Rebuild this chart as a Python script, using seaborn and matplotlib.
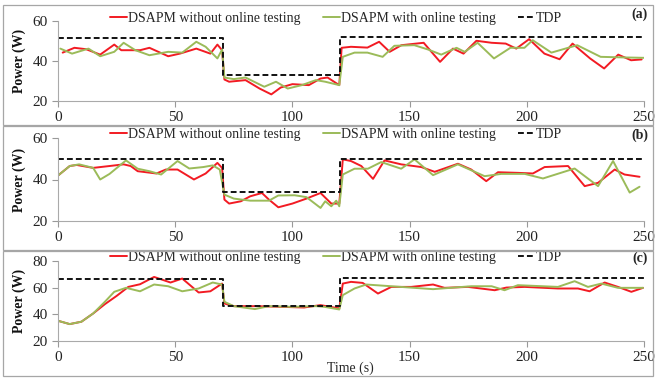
import pandas as pd
import matplotlib.pyplot as plt
import seaborn as sns
from matplotlib.patches import Rectangle

# Panel (a)
a_red_t = [2, 7, 12, 18, 24, 27, 35, 39, 47, 52, 59, 65, 68, 70, 71, 73, 80, 86, 91, 95, 100, 107,
           112, 115, 120, 121, 125, 132, 137, 141.5, 146.5, 156, 163, 168.5, 173, 178.5, 185, 191,
           195.5, 201, 207.5, 214, 219.5, 227, 233, 239, 244.5, 249]
a_red_p = [44.1, 46.5, 45.8, 43.1, 48.1, 45.3, 45.3, 46.5, 42.3, 43.6, 46.1, 43.6, 48.1, 45.3, 30.7,
           29.6, 30.4, 26.2, 23.3, 26.7, 28.4, 27.9, 31.2, 31.7, 27.9, 46.5, 47.0, 46.6, 49.5, 44.5,
           47.8, 49.0, 39.5, 46.1, 43.6, 50.0, 49.0, 48.6, 46.1, 50.8, 43.6, 40.8, 48.6, 41.2, 36.2,
           43.1, 40.3, 40.7]
a_grn_t = [1, 6, 13, 18, 24, 28, 33, 39, 47, 53, 59, 63, 68, 70, 71, 75, 80, 88, 93, 98, 104, 110,
           114, 120, 121.5, 126.5, 132, 138.5, 143.5, 152, 158, 163.5, 170, 173.5, 179, 186, 193,
           199, 202.5, 210.5, 221.5, 231.5, 241.5, 250]
a_grn_p = [46.1, 43.6, 46.1, 42.3, 44.5, 49.0, 45.3, 42.8, 44.5, 44.1, 49.5, 47.0, 41.2, 45.6, 31.7,
           30.9, 31.7, 27.1, 29.6, 26.2, 27.9, 30.4, 29.6, 27.9, 42.0, 44.1, 44.1, 42.0, 47.5, 47.8,
           45.6, 43.1, 46.5, 44.5, 49.0, 41.2, 46.5, 46.5, 50.3, 44.1, 47.8, 42.0, 41.7, 41.5]
a_tdp_t = [0, 70.3, 70.3, 120.5, 120.5, 250]
a_tdp_p = [51.5, 51.5, 33, 33, 52, 52]

# Panel (b)
b_red_t = [0, 5, 8, 15, 22, 28, 31, 34, 42, 46, 51, 58, 63, 68, 70, 71, 73, 78, 82, 87, 90, 94, 100,
           106, 112, 116.6, 120, 121.5, 125, 129.4, 134.4, 139.3, 146.4, 155, 160.7, 170.6, 176.3,
           182.7, 187.7, 196.2, 202.6, 207.6, 217.6, 224.7, 230.4, 237.5, 241.7, 248.1]
b_red_p = [41.9, 46.5, 47.0, 45.6, 46.5, 47.3, 46.5, 44.0, 42.9, 44.8, 44.8, 40.0, 42.9, 48.0, 45.6,
           30.3, 28.4, 29.5, 31.9, 33.5, 30.3, 26.6, 28.4, 30.8, 33.5, 28.4, 28.4, 49.7, 48.9, 46.5,
           40.3, 49.2, 47.3, 46.0, 43.7, 47.6, 44.8, 39.2, 43.5, 43.2, 42.9, 46.0, 46.5, 36.8, 38.4,
           44.8, 42.4, 41.3]
b_grn_t = [0, 5, 9, 15, 18, 22, 29, 34, 39, 44, 51, 56, 62, 66, 69, 71, 75, 82, 90, 94, 101, 106,
           112, 114, 116.6, 118.7, 120, 121.5, 126.5, 132.2, 137.9, 146.4, 152.1, 160, 170.6, 182,
           189.1, 199.1, 206.9, 220.4, 230.4, 236.8, 243.9, 248.1]
b_grn_p = [41.9, 46.5, 47.3, 45.6, 40.0, 42.7, 49.2, 45.2, 44.0, 42.4, 48.9, 45.3, 46.0, 46.8, 44.8,
           32.7, 30.8, 29.8, 29.8, 32.3, 32.4, 31.5, 26.3, 29.5, 27.1, 29.8, 27.1, 42.4, 45.2, 45.2,
           48.4, 45.2, 49.7, 42.1, 47.3, 41.6, 42.7, 42.7, 40.5, 45.3, 36.8, 48.9, 33.7, 36.5]
b_tdp_t = [0, 70.3, 70.3, 120.5, 120.5, 250]
b_tdp_p = [50, 50, 34, 34, 50, 50]

# Panel (c)
c_red_t = [0, 5, 10, 15, 20, 25, 30, 35, 41, 48, 53, 60, 65, 70, 71, 75, 85, 95, 105, 112, 120,
           121.5, 125, 130, 136.5, 142.2, 150.7, 160, 164.9, 174.9, 186.3, 191.3, 199.1, 213.3,
           221.8, 226.8, 233.2, 238.9, 244.6, 249.6]
c_red_p = [35.0, 32.5, 34.3, 40.5, 47.5, 53.7, 60.5, 62.5, 68.0, 63.8, 66.8, 56.3, 57.2, 63.0, 48.0,
           46.0, 46.0, 45.5, 45.0, 46.8, 44.3, 63.0, 64.3, 63.5, 55.5, 60.5, 60.5, 62.3, 59.8, 60.5,
           58.0, 60.0, 60.5, 59.3, 59.3, 57.2, 63.8, 60.5, 56.8, 59.8]
c_grn_t = [0, 5, 10, 15, 20, 24, 29, 35, 41, 47, 53, 60, 66, 70, 71, 75, 84, 90, 100, 110, 113.7,
           120, 121.5, 126.5, 131.5, 142.2, 160, 176.3, 185, 190.5, 196.2, 213.3, 220.4, 226.1,
           231.8, 238.9, 249.6]
c_grn_p = [35.0, 32.5, 34.3, 40.5, 49.3, 56.8, 59.8, 57.2, 62.3, 61.0, 57.2, 59.3, 63.8, 62.3, 49.3,
           46.0, 43.8, 46.0, 45.5, 46.0, 45.5, 43.5, 54.3, 59.3, 62.3, 61.0, 58.8, 61.0, 61.0, 58.0,
           61.8, 60.5, 64.8, 60.5, 63.0, 59.8, 59.8]
c_tdp_t = [0, 70.3, 70.3, 120.5, 120.5, 250]
c_tdp_p = [66.5, 66.5, 46, 46, 67, 67]

s_red = "DSAPM without online testing"
s_grn = "DSAPM with online testing"
s_tdp = "TDP"
panel_labels = ["(a)", "(b)", "(c)"]
x_ticks = [0, 50, 100, 150, 200, 250]
y_ticks = [[20, 40, 60], [20, 40, 60], [20, 40, 60, 80]]

panels = [
    (a_red_t, a_red_p, a_grn_t, a_grn_p, a_tdp_t, a_tdp_p),
    (b_red_t, b_red_p, b_grn_t, b_grn_p, b_tdp_t, b_tdp_p),
    (c_red_t, c_red_p, c_grn_t, c_grn_p, c_tdp_t, c_tdp_p),
]

sns.set_theme(style="ticks")
plt.rcParams['font.family'] = ['Liberation Serif', 'DejaVu Serif']

palette = {s_red: "#f21b23", s_grn: "#9bbb59", s_tdp: "#111111"}
dashes = {s_red: "", s_grn: "", s_tdp: (3, 1.6)}

fig = plt.figure(figsize=(6.55, 3.78), dpi=100)
W, H = 655, 378
# axes boxes in pixels: (top, bottom)
boxes = [(20.7, 101), (138, 221), (261, 340.7)]
frames = [(5, 125), (126, 250), (251, 376)]
x_left, x_right = 58, 644

for i, (rt, rp, gt, gp, tt, tp) in enumerate(panels):
    top, bot = boxes[i]
    ax = fig.add_axes([x_left / W, 1 - bot / H, (x_right - x_left) / W, (bot - top) / H])
    df = pd.concat([
        pd.DataFrame({"time": rt, "power": rp, "series": s_red}),
        pd.DataFrame({"time": gt, "power": gp, "series": s_grn}),
        pd.DataFrame({"time": tt, "power": tp, "series": s_tdp}),
    ], ignore_index=True)
    sns.lineplot(data=df, x="time", y="power", hue="series", style="series",
                 palette=palette, dashes=dashes, estimator=None, sort=False,
                 linewidth=1.4, ax=ax, legend=True)
    h, l = ax.get_legend_handles_labels()
    for hh in h:
        hh.set_linewidth(1.4)
    ax.legend(h, l, ncol=3, loc="center", bbox_to_anchor=(0.475, 1.04 if i else 1.03),
              frameon=False, fontsize=10, handlelength=1.2, handletextpad=0.1,
              columnspacing=1.6, borderaxespad=0)
    ax.set_xlim(0, 250)
    ax.set_ylim(y_ticks[i][0], y_ticks[i][-1])
    ax.set_xticks(x_ticks)
    ax.set_yticks(y_ticks[i])
    ax.tick_params(labelsize=11, colors="#999999", labelcolor="#222222", length=4, width=0.8)
    ax.set_xlabel("")
    ax.set_ylabel("Power (W)", fontsize=10, fontweight="bold", color="#111111")
    ax.yaxis.set_label_coords(-0.055, 0.5)
    sns.despine(ax=ax)
    for sp in ["left", "bottom"]:
        ax.spines[sp].set_color("#aaaaaa")
        ax.spines[sp].set_linewidth(0.8)
    ax.text(1.007, 1.08 if i == 0 else 1.03, panel_labels[i], transform=ax.transAxes,
            ha="right", va="center", fontsize=10, fontweight="bold")
    ft, fb = frames[i]
    fig.add_artist(Rectangle((3 / W, 1 - fb / H), 650 / W, (fb - ft) / H,
                             transform=fig.transFigure, fill=False,
                             edgecolor="#a6a6a6", linewidth=0.9))

fig.text(350 / W, 1 - 368 / H, "Time (s)", ha="center", va="center", fontsize=10)

plt.savefig("out.png", dpi=100)
